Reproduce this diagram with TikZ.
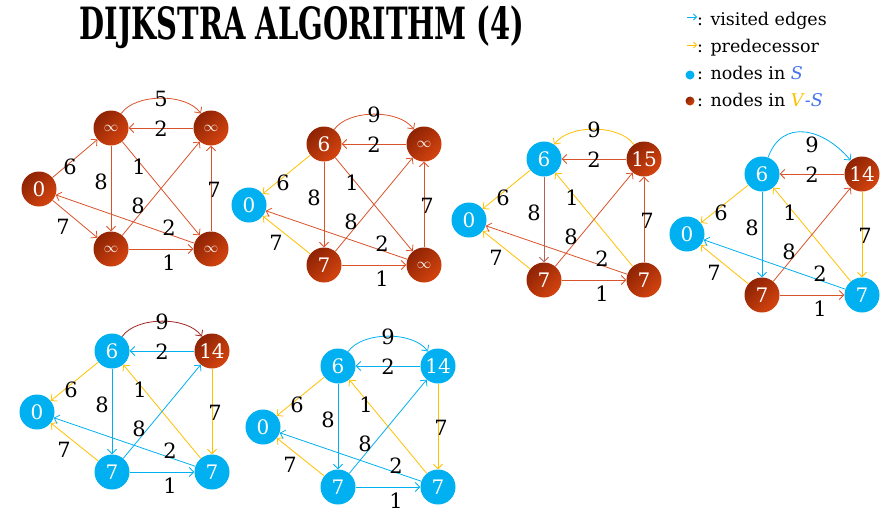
\documentclass[tikz,border=0pt]{standalone}
\usepackage{fontspec}
\setmainfont{DejaVu Serif}
\usetikzlibrary{arrows.meta}
\definecolor{nblue}{HTML}{00B0F0}
\definecolor{rdark}{HTML}{8E2304}
\definecolor{rlight}{HTML}{D4440F}
\definecolor{ered}{HTML}{D9532A}
\definecolor{eyel}{HTML}{FFC000}
\definecolor{eblue}{HTML}{00B0F0}
\definecolor{ebrown}{HTML}{B5605A}
\definecolor{edark}{HTML}{A0241E}
\definecolor{sblue}{HTML}{4472F0}
\newcommand\glabels[2]{%
  \node[lbl] (#1-l9) at (50,-29) {#2};
  \node[lbl] (#1-l2a) at (50,1) {2};
  \node[lbl] (#1-l6) at (-41,39) {6};
  \node[lbl] (#1-l8a) at (-10,54) {8};
  \node[lbl] (#1-l1a) at (28,39) {1};
  \node[lbl] (#1-l8b) at (27,78) {8};
  \node[lbl] (#1-l7a) at (-48,99) {7};
  \node[lbl] (#1-l2b) at (58,100) {2};
  \node[lbl] (#1-l7b) at (103,62) {7};
  \node[lbl] (#1-l1b) at (58,135) {1};
}
\newcommand\infsym{{\fontsize{14}{14}\selectfont$\infty$}}
\begin{document}
\begin{tikzpicture}[x=1pt,y=-1pt,
  rn/.style={circle, minimum size=35pt, inner sep=0pt, shading=axis, top color=rdark, bottom color=rlight, shading angle=45, text=white, font=\fontsize{20}{22}\selectfont},
  bn/.style={circle, minimum size=35pt, inner sep=0pt, fill=nblue, text=white, font=\fontsize{20}{22}\selectfont},
  edg/.style={-{Straight Barb[length=4.5pt,width=9pt]}, line width=0.8pt},
  er/.style={edg, draw=ered},
  ey/.style={edg, draw=eyel},
  eb/.style={edg, draw=eblue},
  lbl/.style={font=\fontsize{21}{23}\selectfont, inner sep=0pt},
  leg/.style={anchor=base west, inner sep=0pt, font=\fontsize{17.5}{20}\selectfont},
  legarrow/.style={-{Straight Barb[length=3pt,width=6pt]}, line width=0.8pt}
]
\useasboundingbox (0,0) rectangle (886,507);

% title
\node (title) at (302,27) {\resizebox*{445pt}{43pt}{\bfseries DIJKSTRA ALGORITHM (4)}};

% legend
\coordinate (la1) at (687,17); \coordinate (lb1) at (697,17);
\coordinate (la2) at (687,45); \coordinate (lb2) at (697,45);
\draw[legarrow, draw=eblue] (la1) -- (lb1);
\draw[legarrow, draw=eyel] (la2) -- (lb2);
\node[circle, fill=nblue, minimum size=9pt, inner sep=0pt] (ld1) at (690,75) {};
\node[circle, shading=axis, top color=rdark, bottom color=rlight, shading angle=45, minimum size=9pt, inner sep=0pt] (ld2) at (690,101) {};
\node[leg] (lt1) at (697,25) {: visited edges};
\node[leg] (lt2) at (697,52) {: predecessor};
\node[leg] (lt3) at (697,79) {: nodes in \textcolor{sblue}{\textit{S}}};
\node[leg] (lt4) at (697,106) {: nodes in \textcolor{eyel}{\textit{V}}\textcolor{sblue}{-\textit{S}}};

% graph 1
\begin{scope}[shift={(111,128)}]
\node[rn] (a-s) at (-72,61) {0};
\node[rn] (a-u) at (0,0) {\infsym};
\node[rn] (a-v) at (100,0) {\infsym};
\node[rn] (a-x) at (0,121) {\infsym};
\node[rn] (a-y) at (100,121) {\infsym};
\draw[er] (a-s) -- (a-u);
\draw[er] (a-s) -- (a-x);
\draw[er] (a-u) to[out=55,in=125,looseness=0.8] (a-v);
\draw[er] (a-v) -- (a-u);
\draw[er] (a-u) -- (a-x);
\draw[er] (a-u) -- (a-y);
\draw[er] (a-x) -- (a-v);
\draw[er] (a-y) -- (a-s);
\draw[er] (a-x) -- (a-y);
\draw[er] (a-y) -- (a-v);
\glabels{a}{5}
\end{scope}

% graph 2
\begin{scope}[shift={(324,144)}]
\node[bn] (b-s) at (-75,61) {0};
\node[rn] (b-u) at (0,0) {6};
\node[rn] (b-v) at (100,0) {\infsym};
\node[rn] (b-x) at (0,121) {7};
\node[rn] (b-y) at (100,121) {\infsym};
\draw[ey] (b-u) -- (b-s);
\draw[ey] (b-x) -- (b-s);
\draw[er] (b-u) to[out=55,in=125,looseness=0.8] (b-v);
\draw[er] (b-v) -- (b-u);
\draw[er] (b-u) -- (b-x);
\draw[er] (b-u) -- (b-y);
\draw[er] (b-x) -- (b-v);
\draw[er] (b-y) -- (b-s);
\draw[er] (b-x) -- (b-y);
\draw[er] (b-y) -- (b-v);
\glabels{b}{9}
\end{scope}

% graph 3
\begin{scope}[shift={(544,159)}]
\node[bn] (c-s) at (-75,61) {0};
\node[bn] (c-u) at (0,0) {6};
\node[rn] (c-v) at (100,0) {15};
\node[rn] (c-x) at (0,121) {7};
\node[rn] (c-y) at (100,121) {7};
\draw[ey] (c-u) -- (c-s);
\draw[ey] (c-x) -- (c-s);
\draw[ey] (c-v) to[out=125,in=55,looseness=0.8] (c-u);
\draw[er] (c-v) -- (c-u);
\draw[edg, draw=ebrown] (c-u) -- (c-x);
\draw[ey] (c-y) -- (c-u);
\draw[er] (c-x) -- (c-v);
\draw[er] (c-y) -- (c-s);
\draw[er] (c-x) -- (c-y);
\draw[er] (c-y) -- (c-v);
\glabels{c}{9}
\end{scope}

% graph 4
\begin{scope}[shift={(762,174)}]
\node[bn] (d-s) at (-75,60) {0};
\node[bn] (d-u) at (0,0) {6};
\node[rn] (d-v) at (100,0) {14};
\node[rn] (d-x) at (0,121) {7};
\node[bn] (d-y) at (100,121) {7};
\draw[ey] (d-u) -- (d-s);
\draw[ey] (d-x) -- (d-s);
\draw[eb] (d-u) to[out=70,in=130,looseness=1.3] (d-v);
\draw[er] (d-v) -- (d-u);
\draw[eb] (d-u) -- (d-x);
\draw[ey] (d-y) -- (d-u);
\draw[er] (d-x) -- (d-v);
\draw[eb] (d-y) -- (d-s);
\draw[er] (d-x) -- (d-y);
\draw[ey] (d-v) -- (d-y);
\glabels{d}{9}
\end{scope}

% graph 5
\begin{scope}[shift={(112,351)}]
\node[bn] (e-s) at (-75,61) {0};
\node[bn] (e-u) at (0,0) {6};
\node[rn] (e-v) at (100,0) {14};
\node[bn] (e-x) at (0,121) {7};
\node[bn] (e-y) at (100,121) {7};
\draw[ey] (e-u) -- (e-s);
\draw[ey] (e-x) -- (e-s);
\draw[edg, draw=edark] (e-u) to[out=55,in=125,looseness=0.8] (e-v);
\draw[eb] (e-v) -- (e-u);
\draw[eb] (e-u) -- (e-x);
\draw[ey] (e-y) -- (e-u);
\draw[eb] (e-x) -- (e-v);
\draw[eb] (e-y) -- (e-s);
\draw[eb] (e-x) -- (e-y);
\draw[ey] (e-v) -- (e-y);
\glabels{e}{9}
\end{scope}

% graph 6
\begin{scope}[shift={(338,366)}]
\node[bn] (f-s) at (-75,61) {0};
\node[bn] (f-u) at (0,0) {6};
\node[bn] (f-v) at (100,0) {14};
\node[bn] (f-x) at (0,121) {7};
\node[bn] (f-y) at (100,121) {7};
\draw[ey] (f-u) -- (f-s);
\draw[ey] (f-x) -- (f-s);
\draw[eb] (f-u) to[out=55,in=125,looseness=0.8] (f-v);
\draw[eb] (f-v) -- (f-u);
\draw[eb] (f-u) -- (f-x);
\draw[ey] (f-y) -- (f-u);
\draw[eb] (f-x) -- (f-v);
\draw[eb] (f-y) -- (f-s);
\draw[eb] (f-x) -- (f-y);
\draw[ey] (f-v) -- (f-y);
\glabels{f}{9}
\end{scope}
\end{tikzpicture}
\end{document}
